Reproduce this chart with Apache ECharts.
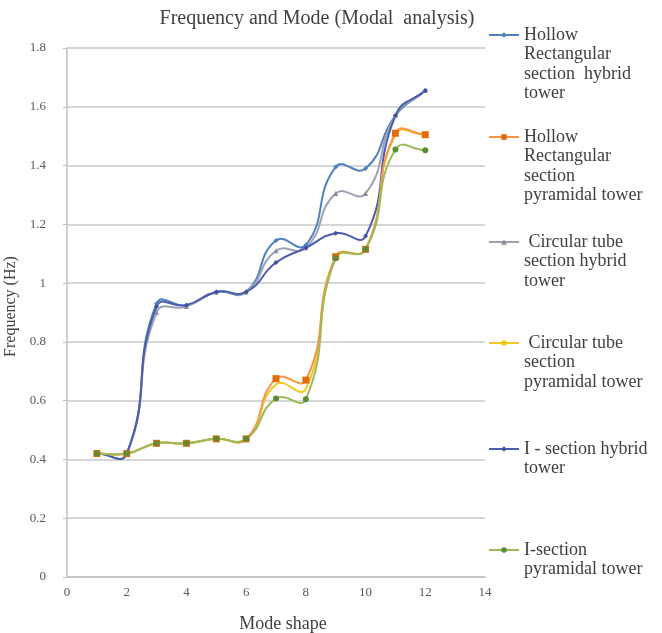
<!DOCTYPE html>
<html>
<head>
<meta charset="utf-8">
<script src="https://cdn.jsdelivr.net/npm/echarts@6/dist/echarts.min.js"></script>
<style>html,body{margin:0;padding:0;background:#fff}#c{width:662px;height:633px}</style>
</head>
<body>
<div id="c"></div>
<script>
var modes = [1,2,3,4,5,6,7,8,9,10,11,12];
var xTicks = [0,2,4,6,8,10,12,14];
var yTicks = [0,0.2,0.4,0.6,0.8,1,1.2,1.4,1.6,1.8];
var seriesNames = [
  'Hollow Rectangular section  hybrid tower',
  'Hollow Rectangular section pyramidal tower',
  'Circular tube section hybrid tower',
  'Circular tube section pyramidal tower',
  'I - section hybrid tower',
  'I-section pyramidal tower'
];
var legendLines = [
  'Hollow\nRectangular\nsection  hybrid\ntower',
  'Hollow\nRectangular\nsection\npyramidal tower',
  ' Circular tube\nsection hybrid\ntower',
  ' Circular tube\nsection\npyramidal tower',
  'I - section hybrid\ntower',
  'I-section\npyramidal tower'
];
var hollowHybrid    = [0.42,0.42,0.93,0.925,0.97,0.97,1.145,1.13,1.395,1.39,1.57,1.655];
var hollowPyramidal = [0.42,0.42,0.455,0.455,0.47,0.47,0.675,0.67,1.09,1.115,1.51,1.505];
var circHybrid      = [0.42,0.42,0.90,0.92,0.97,0.97,1.11,1.12,1.305,1.305,1.57,1.655];
var circPyramidal   = [0.42,0.42,0.455,0.455,0.47,0.47,0.655,0.64,1.09,1.115,1.505,1.505];
var iHybrid         = [0.42,0.42,0.92,0.925,0.97,0.97,1.07,1.12,1.17,1.16,1.57,1.655];
var iPyramidal      = [0.42,0.42,0.455,0.455,0.47,0.47,0.607,0.605,1.085,1.115,1.455,1.452];

var allValues = [hollowHybrid, hollowPyramidal, circHybrid, circPyramidal, iHybrid, iPyramidal];
var lineColors = ['#4F81BD','#F79646','#9EA0B4','#F2C81E','#4A5DAE','#9BBB59'];
var markColors = ['#4F81BD','#E46C0A','#8A8CA0','#F2C81E','#3F51A0','#5E8B35'];
var symbols = ['diamond','rect','triangle','none','diamond','circle'];
var symSizes = [5,7,5,0,5,6];
var legendTops = [35,137,242,343,449,550];
var drawOrder = [3,0,2,4,1,5];

var FONT = '"Liberation Serif","DejaVu Serif",serif';

function pairs(vals){ return modes.map(function(m,i){ return [m, vals[i]]; }); }

// Excel-like smooth curve, computed in pixel space from the axis scales (no clamping)
function smoothRender(vals, color){
  return function(params, api){
    if (params.dataIndex !== 0) return null;
    var pts = modes.map(function(m,i){ return api.coord([m, vals[i]]); });
    var n = pts.length, s = 0.5;
    var cps = pts.map(function(p, i){
      var prev = pts[Math.max(0,i-1)], next = pts[Math.min(n-1,i+1)];
      var vx = next[0]-prev[0], vy = next[1]-prev[1];
      var d0 = Math.hypot(p[0]-prev[0], p[1]-prev[1]);
      var d1 = Math.hypot(next[0]-p[0], next[1]-p[1]);
      var tot = d0 + d1 || 1;
      return {
        inx: p[0] - vx*s*d0/tot, iny: p[1] - vy*s*d0/tot,
        outx: p[0] + vx*s*d1/tot, outy: p[1] + vy*s*d1/tot
      };
    });
    var d = 'M' + pts[0][0] + ' ' + pts[0][1];
    for (var i = 0; i < n-1; i++) {
      d += ' C' + cps[i].outx + ' ' + cps[i].outy + ' ' + cps[i+1].inx + ' ' + cps[i+1].iny + ' ' + pts[i+1][0] + ' ' + pts[i+1][1];
    }
    return {type:'path', shape:{pathData: d}, style:{stroke: color, lineWidth: 2, fill: null}, silent: true};
  };
}

var series = [];
drawOrder.forEach(function(i){
  series.push({
    name: seriesNames[i] + ' (curve)',
    type: 'custom',
    data: pairs(allValues[i]),
    renderItem: smoothRender(allValues[i], lineColors[i]),
    z: 2
  });
});
drawOrder.forEach(function(i){
  series.push({
    name: seriesNames[i],
    type: 'line',
    data: pairs(allValues[i]),
    symbol: symbols[i],
    symbolSize: symSizes[i],
    showSymbol: symbols[i] !== 'none',
    lineStyle: {color: lineColors[i], width: 2, opacity: 0},
    itemStyle: {color: markColors[i]},
    z: 3
  });
});

var LH = 19.5;
var legends = seriesNames.map(function(n, i){
  var k = legendLines[i].split('\n').length;
  var pad = '';
  for (var j = 0; j < k-1; j++) pad += '\n';
  return {
    data: [{name: n, lineStyle: {color: lineColors[i], width: 2, opacity: 1}, itemStyle: {color: markColors[i]}}],
    left: 488,
    top: legendTops[i] - (2*k-1)*LH/2,
    itemWidth: 30,
    itemHeight: 7,
    selectedMode: false,
    padding: 0,
    formatter: function(){ return pad + legendLines[i]; },
    textStyle: {fontFamily: FONT, fontSize: 18, color: '#404040', lineHeight: LH}
  };
});

var chart = echarts.init(document.getElementById('c'), null, {renderer: 'canvas'});
chart.setOption({
  animation: false,
  backgroundColor: '#fff',
  title: {
    text: 'Frequency and Mode (Modal  analysis)',
    left: 312, top: 4, textAlign: 'center',
    textStyle: {fontFamily: FONT, fontSize: 20, fontWeight: 'normal', color: '#404040'}
  },
  legend: legends,
  grid: {left: 67, right: 177, top: 48, bottom: 56, outerBoundsMode: 'none', containLabel: false},
  xAxis: {
    type: 'value', min: xTicks[0], max: xTicks[xTicks.length-1], interval: 2,
    name: 'Mode shape', nameLocation: 'middle', nameGap: 38,
    nameTextStyle: {fontFamily: FONT, fontSize: 18, color: '#404040', padding: [0,0,0,14]},
    axisLine: {lineStyle: {color: '#BFBFBF', width: 1.5}},
    axisTick: {show: false},
    splitLine: {show: false},
    axisLabel: {fontFamily: FONT, fontSize: 13, color: '#595959', margin: 9}
  },
  yAxis: {
    type: 'value', min: yTicks[0], max: yTicks[yTicks.length-1], interval: 0.2,
    name: 'Frequency (Hz)', nameLocation: 'middle', nameGap: 37, nameRotate: 90,
    nameTextStyle: {fontFamily: FONT, fontSize: 16, color: '#404040', padding: [0,0,0,12]},
    axisLine: {show: true, lineStyle: {color: '#BFBFBF', width: 1.5}},
    axisTick: {show: true, length: 4, lineStyle: {color: '#BFBFBF'}},
    splitLine: {lineStyle: {color: '#C8C8C8', width: 1.5}},
    axisLabel: {fontFamily: FONT, fontSize: 13, color: '#595959', margin: 21}
  },
  series: series
});
</script>
</body>
</html>
